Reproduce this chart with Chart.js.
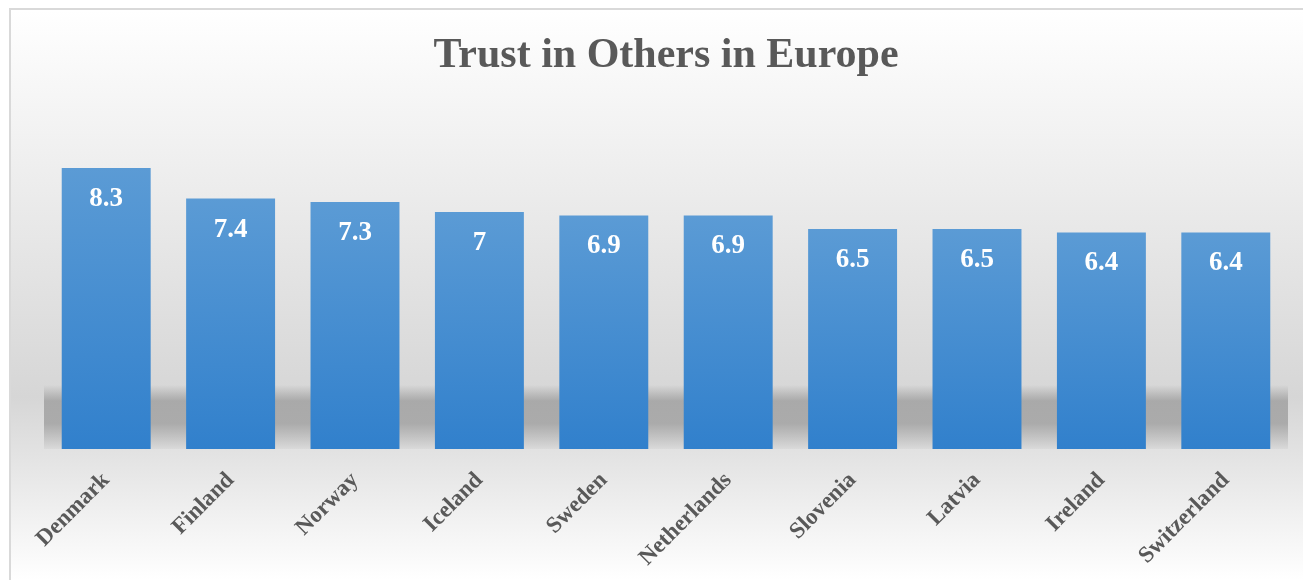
<!DOCTYPE html>
<html>
<head>
<meta charset="utf-8">
<script src="https://cdn.jsdelivr.net/npm/chart.js@4/dist/chart.umd.min.js"></script>
<style>
  html, body { margin: 0; padding: 0; background: #fff; }
  #wrap { width: 1303px; height: 580px; position: relative; }
</style>
</head>
<body>
<div id="wrap"><canvas id="trustChart"></canvas></div>
<script>
// Data
const countries = ['Denmark', 'Finland', 'Norway', 'Iceland', 'Sweden', 'Netherlands', 'Slovenia', 'Latvia', 'Ireland', 'Switzerland'];
const trustScores = [8.3, 7.4, 7.3, 7, 6.9, 6.9, 6.5, 6.5, 6.4, 6.4];
const chartTitle = 'Trust in Others in Europe';

const serif = '"Liberation Serif", "Times New Roman", serif';

// background gradient + frame
const backdrop = {
    id: 'backdrop',
    beforeDraw(chart) {
        const ctx = chart.ctx;
        const w = chart.width, h = chart.height;
        ctx.save();
        const g = ctx.createLinearGradient(0, 10, 0, h);
        g.addColorStop(0, '#ffffff');
        g.addColorStop(0.68, '#d6d6d6');
        g.addColorStop(1, '#ffffff');
        ctx.fillStyle = g;
        ctx.fillRect(11, 10, w - 11, h - 10);
        ctx.strokeStyle = '#d9d9d9';
        ctx.lineWidth = 2;
        ctx.strokeRect(10, 9, w + 10, h + 10);
        ctx.restore();
    },
    beforeDatasetsDraw(chart) {
        // soft shadow band behind the lower part of the bars
        const ctx = chart.ctx;
        const a = chart.chartArea;
        ctx.save();
        const top = a.bottom - 64;
        const g = ctx.createLinearGradient(0, top, 0, a.bottom);
        g.addColorStop(0, 'rgba(150,150,150,0)');
        g.addColorStop(0.25, 'rgba(150,150,150,0.7)');
        g.addColorStop(0.6, 'rgba(150,150,150,0.7)');
        g.addColorStop(1, 'rgba(150,150,150,0.1)');
        ctx.fillStyle = g;
        ctx.fillRect(a.left, top, a.right - a.left, a.bottom - top);
        ctx.restore();
    }
};

// value labels inside the bars
const barValues = {
    id: 'barValues',
    afterDatasetsDraw(chart) {
        const ctx = chart.ctx;
        const meta = chart.getDatasetMeta(0);
        ctx.save();
        ctx.fillStyle = '#ffffff';
        ctx.font = 'bold 27px ' + serif;
        ctx.textAlign = 'center';
        ctx.textBaseline = 'middle';
        meta.data.forEach((bar, i) => {
            ctx.fillText(String(trustScores[i]), bar.x, bar.y + 31);
        });
        ctx.restore();
    }
};

function barFill(context) {
    const chart = context.chart;
    if (!chart.chartArea) return '#4a8fd3';
    const yScale = chart.scales.y;
    const top = yScale.getPixelForValue(context.raw);
    const bottom = yScale.getPixelForValue(0);
    const g = chart.ctx.createLinearGradient(0, top, 0, bottom);
    g.addColorStop(0, '#5b9bd5');
    g.addColorStop(1, '#3180cc');
    return g;
}

const config = {
    type: 'bar',
    data: {
        labels: countries,
        datasets: [{
            label: 'Trust',
            data: trustScores,
            backgroundColor: barFill,
            borderWidth: 0,
            barPercentage: 0.715,
            categoryPercentage: 1
        }]
    },
    options: {
        responsive: true,
        maintainAspectRatio: false,
        animation: false,
        layout: {
            padding: { left: 44, right: 15, top: 0, bottom: 0 }
        },
        plugins: {
            legend: { display: false },
            tooltip: { enabled: false },
            title: {
                display: true,
                text: chartTitle,
                color: '#595959',
                font: { family: serif, size: 42, weight: 'bold', lineHeight: 1.2 },
                padding: { top: 31, bottom: 63 }
            }
        },
        scales: {
            y: {
                display: false,
                min: 0,
                max: 9
            },
            x: {
                grid: { display: false, drawTicks: false },
                border: { display: false },
                ticks: {
                    color: '#595959',
                    font: { family: serif, size: 23, weight: 'bold' },
                    minRotation: 45,
                    maxRotation: 45,
                    padding: 18
                },
                afterFit(scale) { scale.height = 131; }
            }
        }
    },
    plugins: [backdrop, barValues]
};

new Chart(document.getElementById('trustChart'), config);
</script>
</body>
</html>
